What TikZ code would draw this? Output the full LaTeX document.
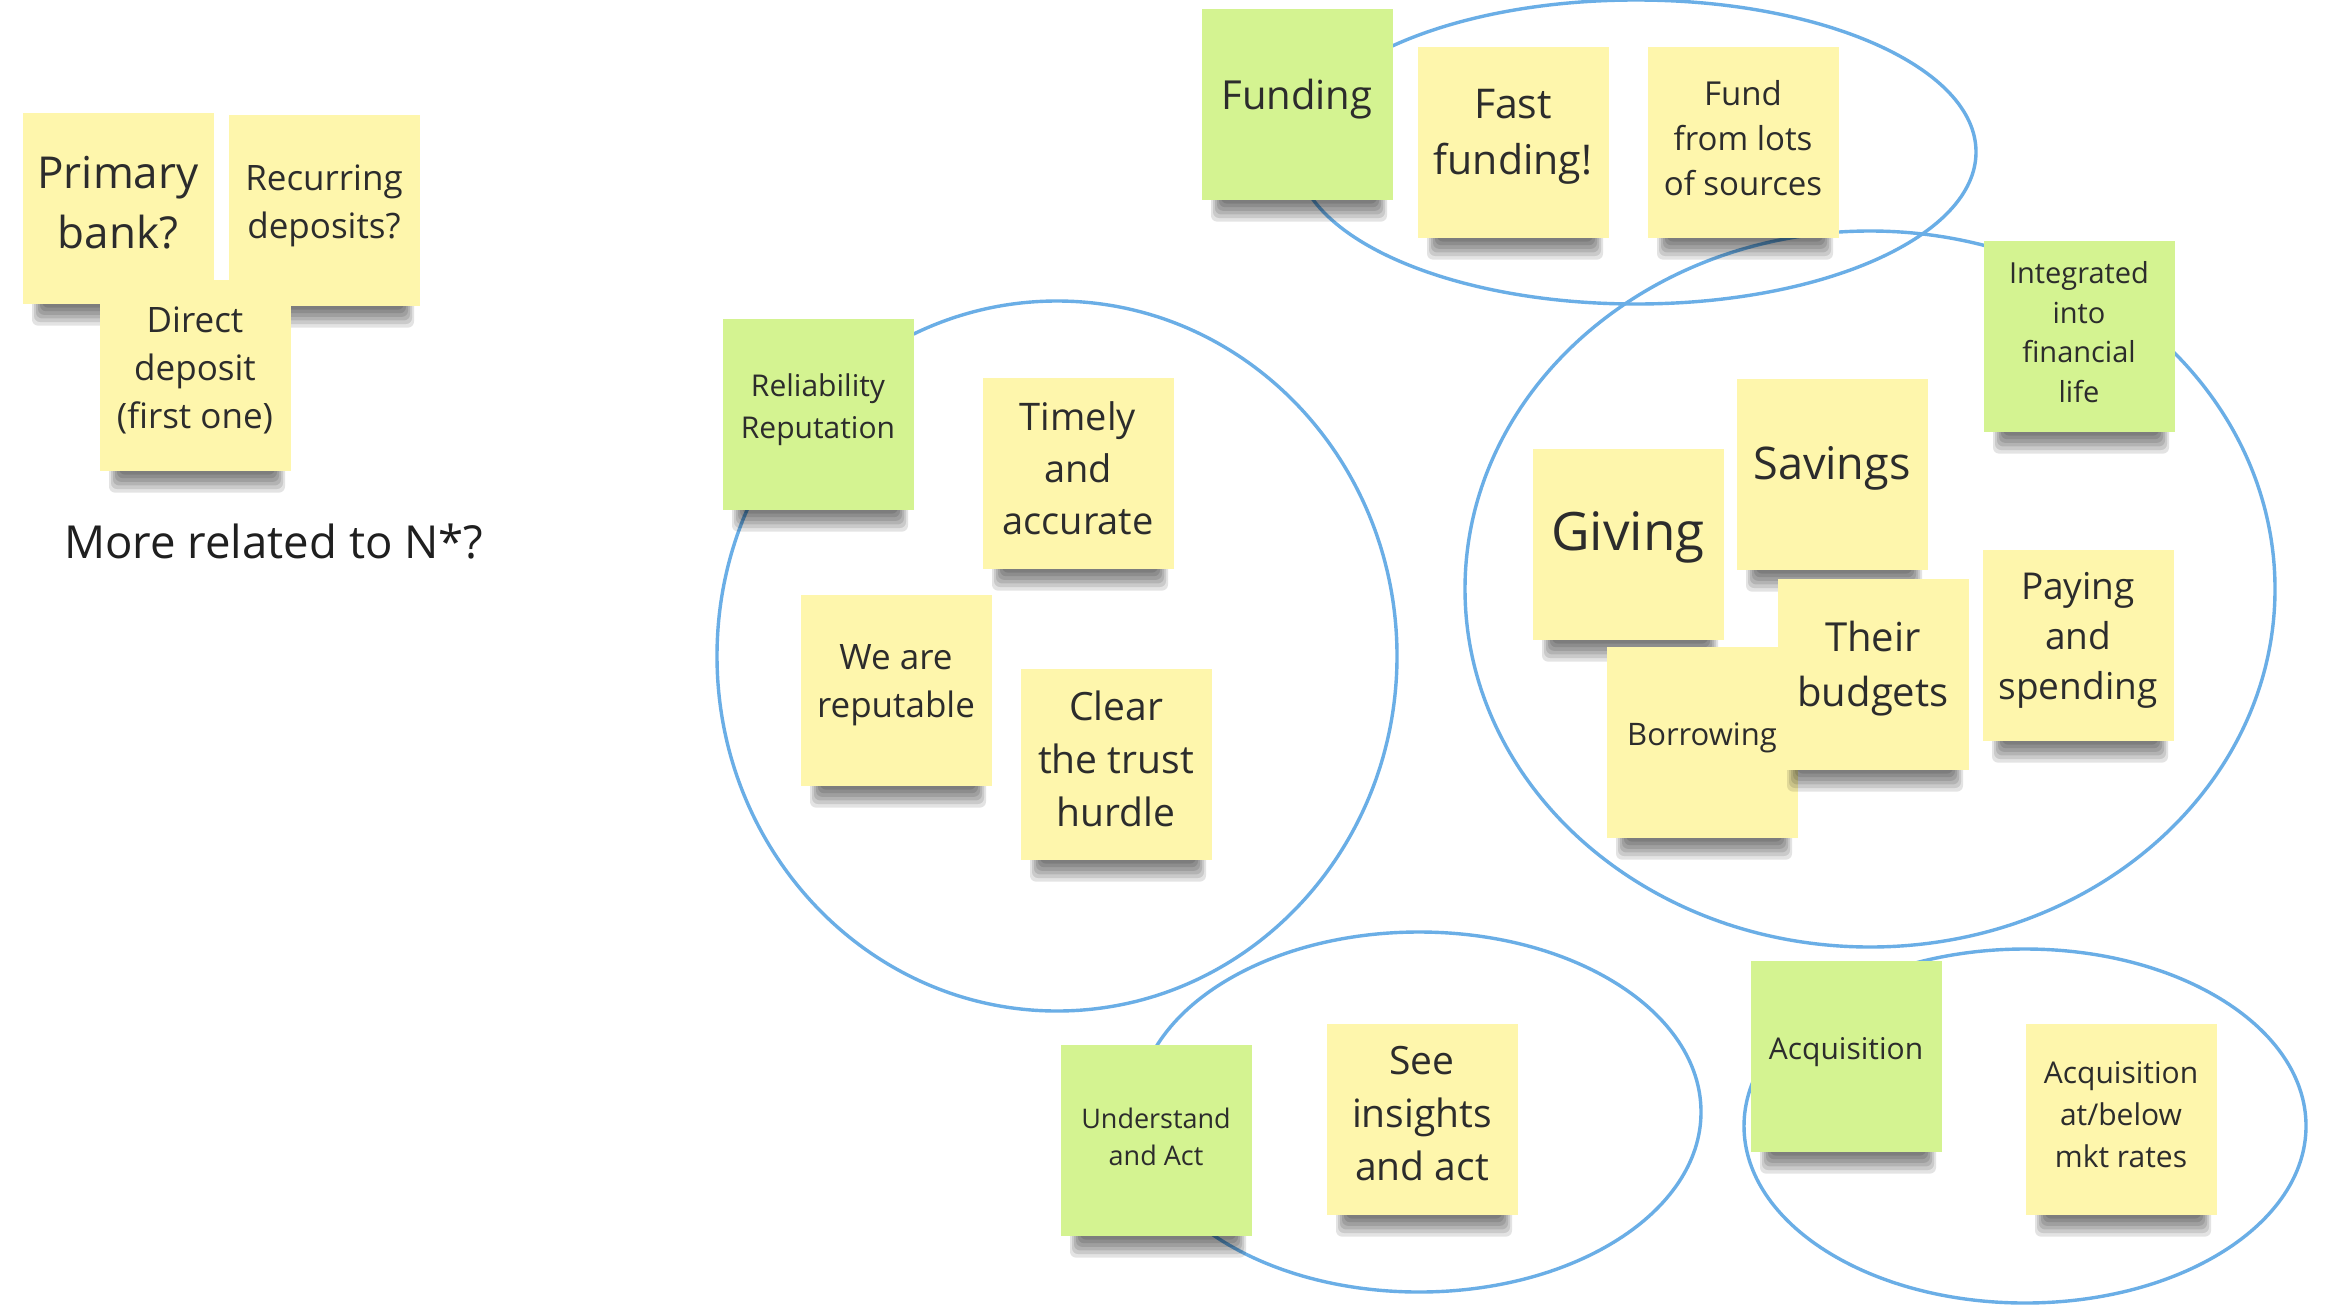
\documentclass[tikz,border=0pt]{standalone}
\usepackage{fontspec}
\setmainfont{Open Sans}
\definecolor{noteyellow}{HTML}{FEF6AC}
\definecolor{notegreen}{HTML}{D4F391}
\definecolor{ringblue}{HTML}{6AAEE6}
\definecolor{textdark}{HTML}{2C2C2C}
\tikzset{
  notebox/.style={rectangle, minimum width=191pt, minimum height=191pt, inner sep=0pt, draw=none},
  notetext/.style={align=center, inner sep=0pt, text=textdark},
  groupring/.style={draw=ringblue, line width=3.4pt},
  notelayer/.style={black, opacity=0.11, rounded corners=6pt},
}
% name, x, y, fill, font size, baseline skip, text
\newcommand\stickynote[7]{%
  \foreach \k in {1,...,6} {%
    \fill[notelayer] ({#2-88+2*\k},{#3+86}) rectangle ({#2+92-2*\k},{#3+96+3.6*(7-\k)});
  }
  \node[notebox, fill=#4] (#1) at (#2,#3) {};
  \node[notetext, font=\fontsize{#5}{#6}\selectfont] (#1-t) at ([yshift=#5*0.13pt]#1.center) {#7};
}
\begin{document}
\begin{tikzpicture}[x=1pt, y=-1pt]
\fill[white] (0,0) rectangle (2336,1304);
\useasboundingbox (0,0) rectangle (2336,1304);

% group rings
\draw[groupring] (1636,152) ellipse [x radius=340, y radius=152];
\draw[groupring] (1057,656) ellipse [x radius=340, y radius=355];
\draw[groupring] (1870,589) ellipse [x radius=405, y radius=358];
\draw[groupring] (1419,1112) ellipse [x radius=282, y radius=180];
\draw[groupring] (2025,1126) ellipse [x radius=281, y radius=177];

% top-left cluster
\stickynote{primary}{118}{208}{noteyellow}{44}{60}{Primary\\bank?}
\stickynote{recurring}{324}{210}{noteyellow}{35}{48}{Recurring\\deposits?}
\stickynote{direct}{195}{375}{noteyellow}{35}{48}{Direct\\deposit\\(first one)}
\node[anchor=west, inner sep=0pt, font=\fontsize{45.5}{60}\selectfont, text=black!88] (nstar) at (64,542) {More related to N*?};

% funding group
\stickynote{funding}{1297}{104}{notegreen}{40}{55}{Funding}
\stickynote{fast}{1513}{142}{noteyellow}{41}{56}{Fast\\funding!}
\stickynote{fundlots}{1743}{142}{noteyellow}{33}{45}{Fund\\from lots\\of sources}

% reliability group
\stickynote{reliab}{818}{414}{notegreen}{30}{42}{Reliability\\Reputation}
\stickynote{timely}{1078}{473}{noteyellow}{38}{52}{Timely\\and\\accurate}
\stickynote{reputable}{896}{690}{noteyellow}{35}{48}{We are\\reputable}
\stickynote{clear}{1116}{764}{noteyellow}{39}{53}{Clear\\the trust\\hurdle}

% financial life group
\stickynote{integrated}{2079}{336}{notegreen}{29}{39.5}{Integrated\\into\\financial\\life}
\stickynote{savings}{1832}{474}{noteyellow}{45}{60}{Savings}
\stickynote{giving}{1628}{544}{noteyellow}{53}{70}{Giving}
\stickynote{borrowing}{1702}{742}{noteyellow}{31}{42}{Borrowing}
\stickynote{budgets}{1873}{674}{noteyellow}{40}{55}{Their\\budgets}
\stickynote{paying}{2078}{645}{noteyellow}{37}{50}{Paying\\and\\spending}

% understand group
\stickynote{understand}{1156}{1140}{notegreen}{27}{37}{Understand\\and Act}
\stickynote{insights}{1422}{1119}{noteyellow}{39}{53}{See\\insights\\and act}

% acquisition group
\stickynote{acquisition}{1846}{1056}{notegreen}{30}{42}{Acquisition}
\stickynote{acqrates}{2121}{1119}{noteyellow}{30}{42}{Acquisition\\at/below\\mkt rates}
\end{tikzpicture}
\end{document}
